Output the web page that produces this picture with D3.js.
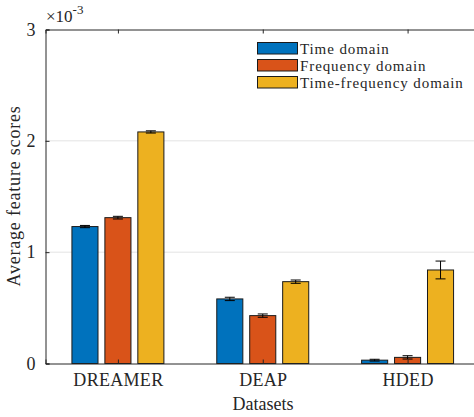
<!DOCTYPE html>
<html>
<head>
<meta charset="utf-8">
<script src="https://cdn.jsdelivr.net/npm/d3@7"></script>
<style>
  html, body { margin: 0; padding: 0; background: #fff; }
  svg { display: block; font-family: "Liberation Serif", "Times New Roman", serif; }
</style>
</head>
<body>
<svg id="chart" width="474" height="417"></svg>
<script>
// Average feature scores (×10^-3) per dataset and feature domain
const datasets = ["DREAMER", "DEAP", "HDED"];
const seriesNames = ["Time domain", "Frequency domain", "Time-frequency domain"];
const timeDomain = [1.23, 0.58, 0.03];
const freqDomain = [1.31, 0.43, 0.055];
const timeFreqDomain = [2.08, 0.735, 0.84];
const timeErr = [0.01, 0.015, 0.008];
const freqErr = [0.012, 0.015, 0.015];
const timeFreqErr = [0.01, 0.015, 0.08];
const yTicks = [0, 1, 2, 3];
const colors = ["#0072BD", "#D95319", "#EDB120"];

const values = [timeDomain, freqDomain, timeFreqDomain];
const errors = [timeErr, freqErr, timeFreqErr];

const svg = d3.select("#chart");
const plotLeft = 45.5, plotRight = 480, plotTop = 29.5, plotBottom = 363.5;
const axisColor = "#262626";
const serif = "Liberation Serif, Times New Roman, serif";

// Category axis spans 0.5..3.5 like a grouped bar plot
const x = d3.scaleLinear().domain([0.5, 3.5]).range([plotLeft, plotRight]);
const y = d3.scaleLinear().domain([0, 3]).range([plotBottom, plotTop]);

const groupOffset = 0.2275;
const barWidth = 0.18;

// Horizontal grid lines
svg.append("g").selectAll("line")
  .data(yTicks.filter(t => t > 0 && t < 3))
  .join("line")
  .attr("x1", plotLeft).attr("x2", plotRight)
  .attr("y1", d => y(d)).attr("y2", d => y(d))
  .attr("stroke", "#e3e3e3").attr("stroke-width", 1);

// Bars
const bars = [];
values.forEach((series, s) => {
  series.forEach((v, i) => {
    bars.push({ s, i, v, e: errors[s][i], xc: (i + 1) + (s - 1) * groupOffset });
  });
});

svg.append("g").selectAll("rect")
  .data(bars)
  .join("rect")
  .attr("x", d => x(d.xc - barWidth / 2))
  .attr("width", d => x(d.xc + barWidth / 2) - x(d.xc - barWidth / 2))
  .attr("y", d => y(d.v))
  .attr("height", d => y(0) - y(d.v))
  .attr("fill", d => colors[d.s])
  .attr("stroke", "#1a1a1a").attr("stroke-width", 1);

// Error bars
const capHalf = 5;
const eg = svg.append("g").attr("stroke", "#000").attr("stroke-width", 1);
eg.selectAll("line.v").data(bars).join("line").attr("class", "v")
  .attr("x1", d => x(d.xc)).attr("x2", d => x(d.xc))
  .attr("y1", d => y(d.v - d.e)).attr("y2", d => y(d.v + d.e));
eg.selectAll("line.t").data(bars).join("line").attr("class", "t")
  .attr("x1", d => x(d.xc) - capHalf).attr("x2", d => x(d.xc) + capHalf)
  .attr("y1", d => y(d.v + d.e)).attr("y2", d => y(d.v + d.e));
eg.selectAll("line.b").data(bars).join("line").attr("class", "b")
  .attr("x1", d => x(d.xc) - capHalf).attr("x2", d => x(d.xc) + capHalf)
  .attr("y1", d => y(d.v - d.e)).attr("y2", d => y(d.v - d.e));

// Axes
const yAxis = d3.axisLeft(y).tickValues(yTicks).tickSize(-4).tickPadding(10).tickFormat(d3.format("d"));
const gy = svg.append("g").attr("transform", `translate(${plotLeft},0)`).call(yAxis);
gy.select(".domain").attr("stroke", axisColor);
gy.selectAll(".tick line").attr("stroke", axisColor);
gy.selectAll("text").attr("font-size", 18).attr("fill", axisColor)
  .attr("font-family", serif);

const xAxis = d3.axisBottom(x).tickValues([1, 2, 3]).tickSize(-4).tickPadding(10)
  .tickFormat((d, i) => datasets[i]);
const gx = svg.append("g").attr("transform", `translate(0,${plotBottom})`).call(xAxis);
gx.select(".domain").attr("stroke", axisColor);
gx.selectAll(".tick line").attr("stroke", axisColor);
gx.selectAll("text").attr("font-size", 18).attr("fill", axisColor)
  .attr("font-family", serif).attr("letter-spacing", 0.3);

const xTop = d3.axisTop(x).tickValues([1, 2, 3]).tickSize(-4).tickFormat("");
const gt = svg.append("g").attr("transform", `translate(0,${plotTop})`).call(xTop);
gt.select(".domain").attr("stroke", axisColor);
gt.selectAll(".tick line").attr("stroke", axisColor);

// Exponent label
const ex = svg.append("text").attr("x", 46).attr("y", 22)
  .attr("font-size", 17).attr("fill", axisColor);
ex.append("tspan").text("\u00d710");
ex.append("tspan").attr("dy", -8).attr("font-size", 13).text("-3");

// Axis titles
svg.append("text").attr("x", 263).attr("y", 410).attr("text-anchor", "middle")
  .attr("font-size", 18).attr("fill", axisColor).text("Datasets");
svg.append("text").attr("transform", "translate(20,196) rotate(-90)")
  .attr("text-anchor", "middle").attr("font-size", 18).attr("fill", axisColor)
  .attr("letter-spacing", 0.8)
  .text("Average feature scores");

// Legend
const lg = svg.append("g").attr("transform", "translate(257,42)");
seriesNames.forEach((name, i) => {
  const row = lg.append("g").attr("transform", `translate(0,${i * 17})`);
  row.append("rect").attr("x", 0.5).attr("y", 0.5).attr("width", 40).attr("height", 11.5)
    .attr("fill", colors[i]).attr("stroke", "#1a1a1a").attr("stroke-width", 1);
  row.append("text").attr("x", 43).attr("y", 11.5).attr("font-size", 15).attr("fill", axisColor)
    .attr("letter-spacing", 0.9)
    .text(name);
});
</script>
</body>
</html>
